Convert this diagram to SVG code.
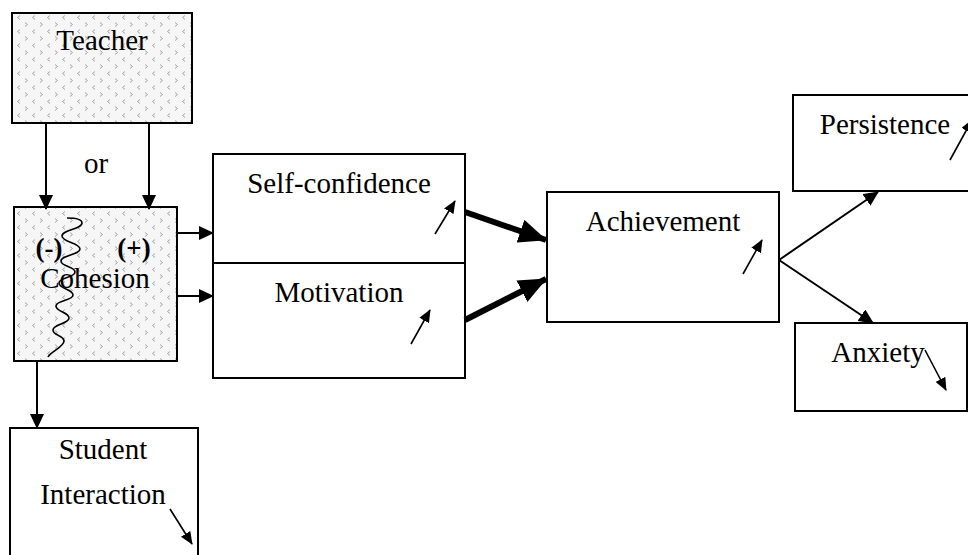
<svg xmlns="http://www.w3.org/2000/svg" width="968" height="555" viewBox="0 0 968 555">
<style>
  .box { fill: #ffffff; stroke: #000; stroke-width: 2; }
  .pat { fill: url(#dots); stroke: #000; stroke-width: 2; }
  .t { font-family: "Liberation Serif", "Times New Roman", serif; font-size: 29px; fill: #000; text-anchor: middle; }
  .b { font-family: "Liberation Serif", "Times New Roman", serif; font-size: 27px; font-weight: bold; fill: #000; text-anchor: middle; }
  .c { stroke: #000; stroke-width: 2; fill: none; }
  .thick { stroke: #000; stroke-width: 6; fill: none; }
  .s { stroke: #000; stroke-width: 1.6; fill: none; }
</style>
<defs>
  <pattern id="dots" patternUnits="userSpaceOnUse" width="15" height="14">
    <rect width="15" height="14" fill="#f6f6f6"/>
    <path d="M5,1.5 L2.5,3.5 L5,5.5" stroke="#9a9a9a" stroke-width="0.9" fill="none"/>
    <path d="M10,8.5 L12.5,10.5 L10,12.5" stroke="#9a9a9a" stroke-width="0.9" fill="none"/>
  </pattern>
  <marker id="ah" markerUnits="userSpaceOnUse" markerWidth="15" markerHeight="14" refX="14" refY="7" orient="auto">
    <path d="M0,0 L15,7 L0,14 z" fill="#000"/>
  </marker>
  <marker id="ahb" markerUnits="userSpaceOnUse" markerWidth="28" markerHeight="24" refX="27" refY="12" orient="auto">
    <path d="M0,0 L28,12 L0,24 z" fill="#000"/>
  </marker>
  <marker id="ahs" markerUnits="userSpaceOnUse" markerWidth="13" markerHeight="11" refX="12" refY="5.5" orient="auto">
    <path d="M0,0 L13,5.5 L0,11 z" fill="#000"/>
  </marker>
</defs>

<g id="teacher">
  <rect class="pat" x="12" y="13" width="180" height="110"/>
  <text class="t" x="102" y="50">Teacher</text>
</g>

<g id="or-label">
  <text class="t" x="96" y="173">or</text>
</g>

<g id="cohesion">
  <rect class="pat" x="14" y="207" width="163" height="154"/>
  <text class="b" x="49" y="257">(-)</text>
  <text class="b" x="134" y="257">(+)</text>
  <text class="t" x="95" y="288">Cohesion</text>
  <path class="s" stroke-width="2" d="M67,218 C76,218 82,219 82,223 C82,229 62,230 62,236 C62,242 80,243 80,249 C80,255 61,255 61,261 C61,267 75,266 75,272 C75,278 59,277 59,283 C59,289 73,289 73,295 C73,301 56,300 56,306 C56,312 69,312 69,318 C69,324 53,324 53,330 C53,336 64,335 64,341 C64,347 50,352 48,357"/>
</g>

<g id="self-confidence">
  <rect class="box" x="213" y="154" width="252" height="109"/>
  <text class="t" x="339" y="193">Self-confidence</text>
  <line class="s" x1="435" y1="234" x2="455" y2="201" marker-end="url(#ahs)"/>
</g>

<g id="motivation">
  <rect class="box" x="213" y="263" width="252" height="115"/>
  <text class="t" x="339" y="302">Motivation</text>
  <line class="s" x1="411" y1="344" x2="430" y2="310" marker-end="url(#ahs)"/>
</g>

<g id="achievement">
  <rect class="box" x="547" y="192" width="232" height="130"/>
  <text class="t" x="663" y="231">Achievement</text>
  <line class="s" x1="743" y1="274" x2="762" y2="240" marker-end="url(#ahs)"/>
</g>

<g id="persistence">
  <rect class="box" x="793" y="95" width="185" height="96"/>
  <text class="t" x="885" y="134">Persistence</text>
  <line class="s" x1="950" y1="160" x2="972" y2="120" marker-end="url(#ahs)"/>
</g>

<g id="anxiety">
  <rect class="box" x="795" y="323" width="172" height="88"/>
  <text class="t" x="878" y="362">Anxiety</text>
  <line class="s" x1="925" y1="350" x2="946" y2="390" marker-end="url(#ahs)"/>
</g>

<g id="student-interaction">
  <rect class="box" x="10" y="428" width="188" height="140"/>
  <text class="t" x="103" y="459">Student</text>
  <text class="t" x="103" y="504">Interaction</text>
  <line class="s" x1="170" y1="509" x2="192" y2="544" marker-end="url(#ahs)"/>
</g>

<g id="connectors">
  <line class="c" x1="46" y1="123" x2="46" y2="209" marker-end="url(#ah)"/>
  <line class="c" x1="149" y1="123" x2="149" y2="209" marker-end="url(#ah)"/>
  <line class="c" x1="177" y1="233" x2="213" y2="233" marker-end="url(#ah)"/>
  <line class="c" x1="177" y1="296" x2="213" y2="296" marker-end="url(#ah)"/>
  <line class="c" x1="37" y1="361" x2="37" y2="428" marker-end="url(#ah)"/>
  <line class="thick" x1="465" y1="212" x2="546" y2="240" marker-end="url(#ahb)"/>
  <line class="thick" x1="465" y1="320" x2="546" y2="279" marker-end="url(#ahb)"/>
  <line class="c" x1="779" y1="260" x2="878" y2="192" marker-end="url(#ah)"/>
  <line class="c" x1="779" y1="260" x2="873" y2="323" marker-end="url(#ah)"/>
</g>
</svg>
